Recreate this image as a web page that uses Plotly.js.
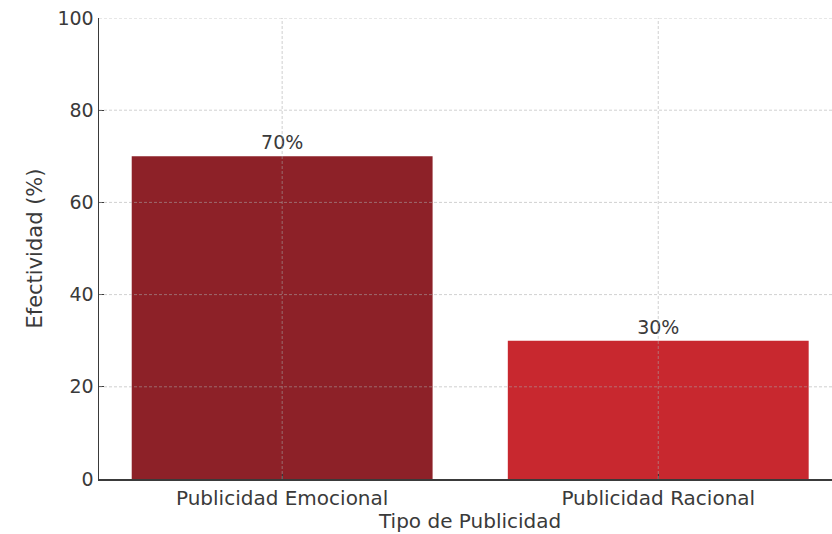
<!DOCTYPE html>
<html>
<head>
<meta charset="utf-8">
<script src="https://cdn.plot.ly/plotly-3.0.1.min.js"></script>
<style>
  html, body { margin: 0; padding: 0; background: #ffffff; }
  #chart { width: 832px; height: 534px; }
</style>
</head>
<body>
<div id="chart"></div>
<script>
// Effectiveness by advertising type
const categories = ['Publicidad Emocional', 'Publicidad Racional'];
const effectiveness = [70, 30];
const barColors = ['#8d2128', '#c8282f'];
const yTickValues = [0, 20, 40, 60, 80, 100];

const textColor = '#3a3a3a';
const gridColor = 'rgba(170,170,170,0.55)';

// Dashed grid drawn over the bars, one line per tick
const gridShapes = [];
yTickValues.filter(v => v > 0).forEach(v => {
  gridShapes.push({
    type: 'line', layer: 'above', xref: 'paper', yref: 'y',
    x0: 0, x1: 1, y0: v, y1: v,
    line: { color: gridColor, width: 1, dash: '3px,2px' }
  });
});
categories.forEach((c, i) => {
  gridShapes.push({
    type: 'line', layer: 'above', xref: 'x', yref: 'paper',
    x0: i, x1: i, y0: 0, y1: 1,
    line: { color: gridColor, width: 1, dash: '3px,2px' }
  });
});

const trace = {
  type: 'bar',
  x: categories.map((c, i) => i),
  y: effectiveness,
  width: 0.8,
  marker: { color: barColors, line: { width: 0 } },
  text: effectiveness.map(v => v + '%'),
  textposition: 'outside',
  cliponaxis: false,
  textfont: { family: 'DejaVu Sans', size: 19, color: textColor },
  hoverinfo: 'skip'
};

const layout = {
  width: 832,
  height: 534,
  margin: { l: 99, r: 0, t: 18, b: 55 },
  paper_bgcolor: '#ffffff',
  plot_bgcolor: '#ffffff',
  showlegend: false,
  font: { family: 'DejaVu Sans', size: 19, color: textColor },
  xaxis: {
    range: [-0.487, 1.462],
    tickvals: categories.map((c, i) => i),
    ticktext: categories,
    showgrid: false,
    zeroline: false,
    showline: true,
    linecolor: '#3a3a3a',
    linewidth: 1.5,
    ticks: 'inside',
    ticklen: 5,
    tickcolor: '#3a3a3a',
    tickfont: { size: 20, color: textColor },
    fixedrange: true
  },
  yaxis: {
    range: [0, 100],
    tickvals: yTickValues,
    showgrid: false,
    zeroline: false,
    showline: true,
    linecolor: '#3a3a3a',
    linewidth: 1.5,
    ticks: 'inside',
    ticklen: 5,
    tickcolor: '#3a3a3a',
    tickfont: { size: 19, color: textColor },
    title: { text: 'Efectividad (%)', font: { size: 21, color: textColor }, standoff: 9 },
    fixedrange: true
  },
  annotations: [{
    text: 'Tipo de Publicidad',
    xref: 'paper', yref: 'paper',
    x: 0.5055, y: 0, yshift: -42,
    xanchor: 'center', yanchor: 'middle',
    showarrow: false,
    font: { family: 'DejaVu Sans', size: 20, color: textColor }
  }],
  shapes: gridShapes,
  bargap: 0.2
};

Plotly.newPlot('chart', [trace], layout, { displayModeBar: false, staticPlot: true });
</script>
</body>
</html>
